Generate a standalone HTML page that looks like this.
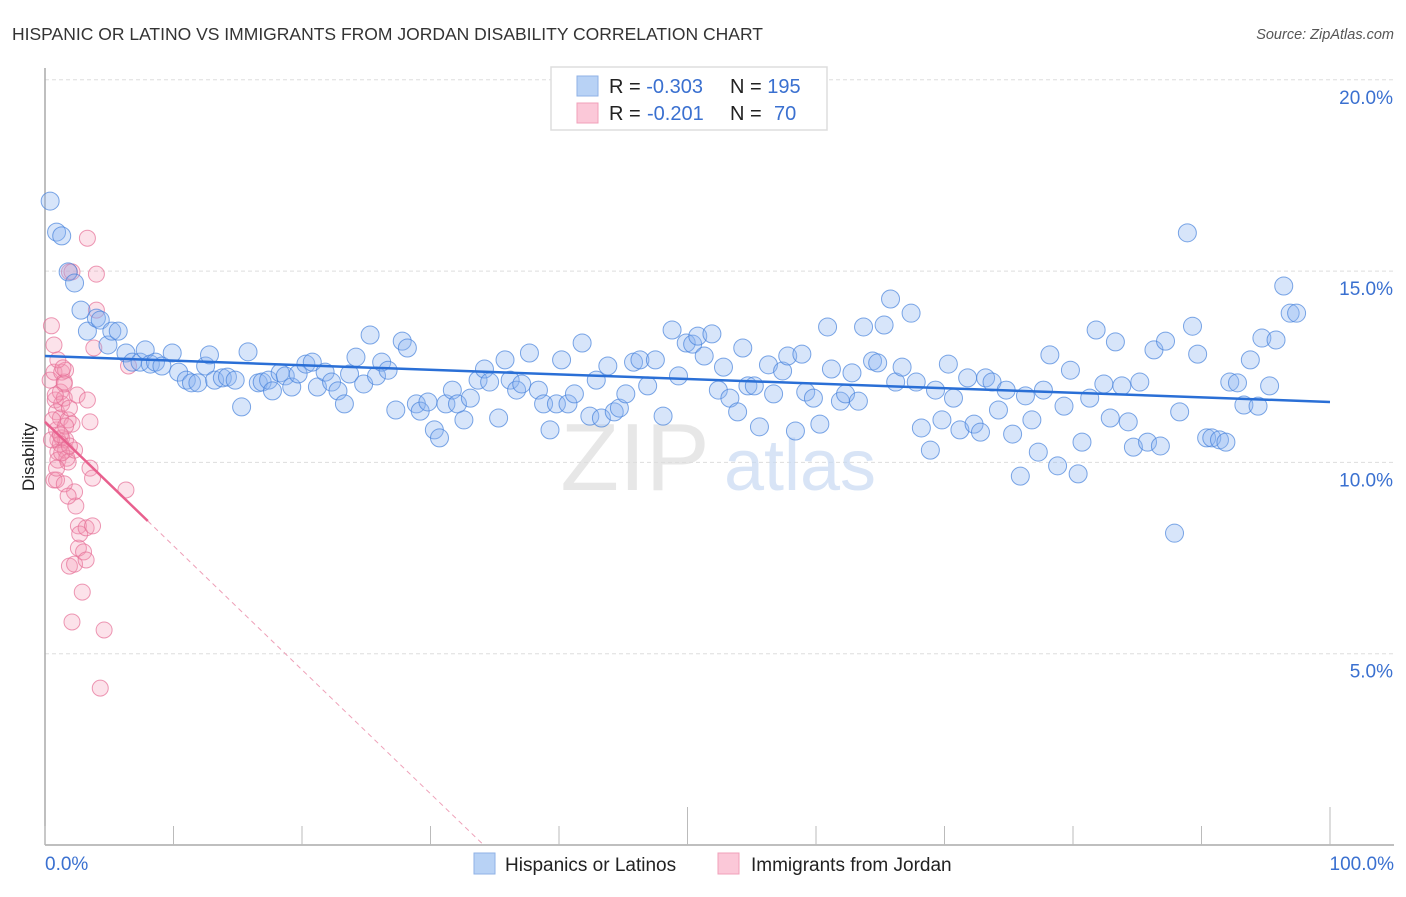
<!DOCTYPE html>
<html><head><meta charset="utf-8"><style>
body{margin:0;background:#fff;font-family:"Liberation Sans",sans-serif;}
svg text{font-family:"Liberation Sans",sans-serif;}
</style></head><body>
<svg id="chart" width="1406" height="892" viewBox="0 0 1406 892" xmlns="http://www.w3.org/2000/svg">
<text x="12" y="40" font-size="17.5" fill="#333">HISPANIC OR LATINO VS IMMIGRANTS FROM JORDAN DISABILITY CORRELATION CHART</text>
<text x="1394" y="39" font-size="14.5" fill="#555" font-style="italic" text-anchor="end">Source: ZipAtlas.com</text>
<g id="grid"></g>
<g id="watermark">
<text x="635" y="490" font-size="96" fill="#ddd" font-family="Liberation Serif" text-anchor="middle" opacity="0.7">ZIP</text>
<text x="800" y="490" font-size="72" fill="#c8daf3" text-anchor="middle" opacity="0.7">atlas</text>
</g>
<g id="axes"></g>
<g id="pink-pts"></g>
<g id="blue-pts"></g>
<g id="trends"></g>
<text transform="translate(34,457) rotate(-90)" font-size="17" fill="#222" text-anchor="middle">Disability</text>
<g>
<rect x="551" y="67" width="276" height="63" fill="#fff" stroke="#ddd" stroke-width="1.5"/>
<rect x="577" y="76" width="21" height="20" fill="#b8d2f5" stroke="#8fb2e6"/>
<rect x="577" y="103" width="21" height="20" fill="#fbc8d8" stroke="#f0a0ba"/>
<text x="609" y="93" font-size="20" fill="#222">R = <tspan fill="#3a70d0">-0.303</tspan><tspan x="730">N = </tspan><tspan fill="#3a70d0">195</tspan></text>
<text x="609" y="120" font-size="20" fill="#222">R = <tspan fill="#3a70d0" x="647">-0.201</tspan><tspan x="730">N = </tspan><tspan fill="#3a70d0" x="774">70</tspan></text>
</g>
<g>
<rect x="474" y="853" width="21" height="21" fill="#b8d2f5" stroke="#8fb2e6"/>
<text x="505" y="871" font-size="19" fill="#222">Hispanics or Latinos</text>
<rect x="718" y="853" width="21" height="21" fill="#fbc8d8" stroke="#f0a0ba"/>
<text x="751" y="871" font-size="19" fill="#222">Immigrants from Jordan</text>
</g>
</svg>
<script>
const blueX=[0.4,0.9,1.3,1.8,2.3,2.8,3.3,4.0,4.3,4.9,5.2,5.7,6.3,6.8,7.4,7.8,8.2,8.6,9.1,9.9,10.4,11.0,11.4,11.9,12.5,12.8,13.2,13.8,14.2,14.8,15.3,15.8,16.6,16.9,17.4,17.7,18.3,18.7,19.2,19.7,20.3,20.8,21.2,21.8,22.3,22.8,23.3,23.7,24.2,24.8,25.3,25.8,26.2,26.7,27.3,27.8,28.2,28.9,29.2,29.8,30.3,30.7,31.2,31.7,32.1,32.6,33.1,33.7,34.2,34.6,35.3,35.8,36.2,36.7,37.1,37.7,38.4,38.8,39.3,39.8,40.2,40.7,41.2,41.8,42.4,42.9,43.3,43.8,44.3,44.7,45.2,45.8,46.3,46.9,47.5,48.1,48.8,49.3,49.9,50.4,50.8,51.3,51.9,52.4,52.8,53.3,53.9,54.3,54.7,55.2,55.6,56.3,56.7,57.4,57.8,58.4,58.9,59.2,59.8,60.3,60.9,61.2,61.9,62.3,62.8,63.3,63.7,64.4,64.8,65.3,65.8,66.2,66.7,67.4,67.8,68.2,68.9,69.3,69.8,70.3,70.7,71.2,71.8,72.3,72.8,73.2,73.7,74.2,74.8,75.3,75.9,76.3,76.8,77.3,77.7,78.2,78.8,79.3,79.8,80.4,80.7,81.3,81.8,82.4,82.9,83.3,83.8,84.3,84.7,85.2,85.8,86.3,86.8,87.2,87.9,88.3,88.9,89.3,89.7,90.4,90.8,91.4,91.9,92.2,92.8,93.3,93.8,94.4,94.7,95.3,95.8,96.4,96.9,97.4];
const blueY=[16.83,16.02,15.92,14.98,14.69,13.98,13.43,13.77,13.72,13.07,13.43,13.43,12.86,12.62,12.62,12.94,12.57,12.62,12.52,12.86,12.36,12.15,12.08,12.08,12.52,12.81,12.15,12.21,12.23,12.15,11.45,12.89,12.08,12.10,12.15,11.87,12.34,12.26,11.97,12.31,12.57,12.62,11.97,12.36,12.10,11.87,11.53,12.31,12.75,12.05,13.33,12.26,12.62,12.41,11.37,13.17,12.99,11.53,11.34,11.58,10.85,10.64,11.53,11.89,11.53,11.11,11.68,12.15,12.44,12.10,11.16,12.68,12.15,11.89,12.05,12.86,11.89,11.53,10.85,11.53,12.68,11.53,11.79,13.12,11.21,12.15,11.16,12.52,11.32,11.42,11.79,12.62,12.68,12.00,12.68,11.21,13.46,12.26,13.12,13.09,13.30,12.78,13.36,11.89,12.49,11.68,11.32,12.99,12.00,12.00,10.93,12.55,11.79,12.39,12.78,10.82,12.83,11.84,11.68,11.00,13.54,12.44,11.60,11.79,12.34,11.60,13.54,12.65,12.60,13.59,14.27,12.10,12.49,13.90,12.10,10.90,10.32,11.89,11.11,12.57,11.68,10.85,12.21,11.00,10.79,12.21,12.10,11.37,11.89,10.74,9.64,11.74,11.11,10.27,11.89,12.81,9.91,11.47,12.41,9.70,10.53,11.68,13.46,12.05,11.16,13.15,12.00,11.06,10.40,12.10,10.53,12.94,10.43,13.17,8.15,11.32,16.00,13.56,12.83,10.64,10.64,10.59,10.53,12.10,12.08,11.50,12.68,11.47,13.25,12.00,13.20,14.61,13.90,13.90];
const pinkX=[0.4,0.5,0.7,0.7,0.8,0.9,0.9,1.0,1.0,1.0,1.2,1.2,1.3,1.3,1.3,1.5,1.5,1.6,1.6,1.6,1.7,1.8,1.8,1.9,1.9,1.9,2.1,2.1,2.3,2.3,2.3,2.4,2.5,2.6,2.6,2.7,2.1,2.9,3.0,3.2,3.2,3.3,3.3,3.5,3.5,3.7,3.7,3.8,4.0,4.0,4.3,4.6,6.3,6.5,0.7,0.6,0.9,1.0,1.5,1.2,0.5,1.5,1.6,1.3,0.9,1.2,1.9,1.8,1.4,0.8];
const pinkY=[12.15,13.57,13.07,12.36,11.63,11.32,10.85,10.59,10.27,10.06,11.16,11.84,12.36,11.53,10.64,12.10,11.68,12.41,10.59,10.32,10.11,11.11,10.01,11.42,14.98,7.29,11.00,14.98,7.34,10.32,9.23,8.86,11.76,7.76,8.34,8.13,5.83,6.61,7.66,8.29,7.45,15.86,11.63,11.06,9.85,8.34,9.59,12.99,13.98,14.92,4.10,5.62,9.28,12.52,9.54,11.11,9.54,12.68,9.44,10.48,10.59,12.05,10.95,10.25,9.85,10.72,10.43,9.12,12.47,11.76];
const yTicks=[5,10,15,20];
const yTickLabels=["5.0%","10.0%","15.0%","20.0%"];
const xTicks=[0,10,20,30,40,50,60,70,80,90,100];
const blueTrend=[12.78,11.58];
const pinkTrend=[11.06,-0.324];

const NS="http://www.w3.org/2000/svg";
const X=v=>45+v*12.85;
const Y=v=>845-v*38.26;
function mk(tag,attrs,parent){const e=document.createElementNS(NS,tag);for(const k in attrs)e.setAttribute(k,attrs[k]);parent.appendChild(e);return e;}
const grid=document.getElementById('grid'),axes=document.getElementById('axes');
yTicks.forEach((t,i)=>{
  const l=mk('line',{x1:45,x2:1394,y1:Y(t),y2:Y(t),stroke:'#ddd','stroke-dasharray':'4,3'},grid);
  
  
  const tx=mk('text',{x:1393,y:Y(t)+24,'font-size':19,fill:'#3a70d0','text-anchor':'end'},axes);
  tx.textContent=yTickLabels[i];
  
  
});
const ya=mk('line',{x1:45,x2:45,y1:68,y2:845,stroke:'#aaa','stroke-width':1.5},axes);


const xa=mk('line',{x1:45,x2:1394,y1:845,y2:845,stroke:'#aaa','stroke-width':1.5},axes);


xTicks.forEach(t=>{
  const major=(t===50||t===100);
  const tk=mk('line',{x1:X(t),x2:X(t),y1:major?807:826,y2:845,stroke:'#bbb'},axes);
  
  
});
const x0=mk('text',{x:45,y:870,'font-size':19,fill:'#3a70d0'},axes);x0.textContent='0.0%';


const x1=mk('text',{x:1394,y:870,'font-size':19,fill:'#3a70d0','text-anchor':'end'},axes);x1.textContent='100.0%';



const pg=document.getElementById('pink-pts');
pinkX.forEach((v,i)=>{
  const c=mk('circle',{cx:X(v),cy:Y(pinkY[i]),r:8,fill:'rgba(244,150,180,0.28)',stroke:'rgba(230,110,150,0.7)','stroke-width':1},pg);
  
  
});
const bg=document.getElementById('blue-pts');
blueX.forEach((v,i)=>{
  const c=mk('circle',{cx:X(v),cy:Y(blueY[i]),r:9,fill:'rgba(140,180,240,0.35)',stroke:'rgba(70,130,220,0.7)','stroke-width':1},bg);
  
  
});
const tg=document.getElementById('trends');
const bt=mk('line',{x1:X(0),y1:Y(blueTrend[0]),x2:X(100),y2:Y(blueTrend[1]),stroke:'#2a6fd6','stroke-width':2.5},tg);


const xEnd=-pinkTrend[0]/pinkTrend[1];
const ps=mk('line',{x1:X(0),y1:Y(pinkTrend[0]),x2:X(8),y2:Y(pinkTrend[0]+pinkTrend[1]*8),stroke:'#e8608e','stroke-width':2.5},tg);


const pd=mk('line',{x1:X(8),y1:Y(pinkTrend[0]+pinkTrend[1]*8),x2:X(xEnd),y2:Y(0),stroke:'#eea0b8','stroke-width':1,'stroke-dasharray':'5,4'},tg);


</script>
</body></html>
